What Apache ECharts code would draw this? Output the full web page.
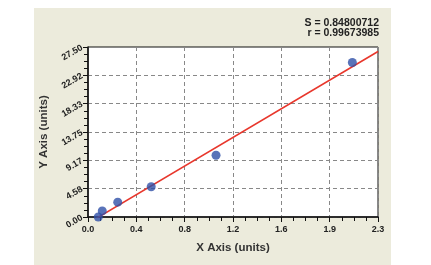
<!DOCTYPE html>
<html>
<head>
<meta charset="utf-8">
<script src="https://cdn.jsdelivr.net/npm/echarts@6/dist/echarts.min.js"></script>
<style>html,body{margin:0;padding:0;background:#fff;}#c{width:431px;height:265px;}</style>
</head>
<body>
<div id="c"></div>
<script>
var xTickLabels = ['0.0','0.4','0.8','1.2','1.6','1.9','2.3'];
var yTickLabels = ['0.00','4.58','9.17','13.75','18.33','22.92','27.50'];
var xValues = [0.083, 0.115, 0.24, 0.51, 1.033, 2.133];
var yValues = [0.0, 0.98, 2.40, 4.9, 9.98, 25.0];
var fitX = [0.07, 2.34];
var fitY = [-0.2, 26.77];
var statLines = ['S = 0.84800712', 'r = 0.99673985'];

var xMax = 2.34, xStep = 0.39;
var yMax = 27.5, yStep = 27.5 / 6;

var chart = echarts.init(document.getElementById('c'), null, {renderer: 'canvas'});
var pts = xValues.map(function (x, i) { return [x, yValues[i]]; });
var fit = fitX.map(function (x, i) { return [x, fitY[i]]; });
var font = 'Liberation Sans, Arial, sans-serif';

var graphics = [{
  type: 'rect', z: -10, silent: true,
  shape: {x: 34, y: 8, width: 357, height: 257},
  style: {fill: '#ecebdc'}
}];
statLines.forEach(function (t, i) {
  graphics.push({
    type: 'text', x: 379, y: 23 + i * 10, silent: true,
    style: {text: t, align: 'right', verticalAlign: 'middle', fill: '#222',
      font: 'bold 10.5px ' + font}
  });
});

chart.setOption({
  animation: false,
  backgroundColor: '#ffffff',
  graphic: graphics,
  grid: {
    left: 88, right: 53, top: 47, bottom: 48,
    show: true, backgroundColor: '#ffffff', borderColor: '#111', borderWidth: 1
  },
  xAxis: {
    type: 'value', min: 0, max: xMax, interval: xStep,
    name: 'X Axis (units)', nameLocation: 'middle', nameGap: 25,
    nameTextStyle: {fontFamily: font, fontSize: 11.5, fontWeight: 'bold', color: '#333'},
    axisLine: {show: true, onZero: false, lineStyle: {color: '#111', width: 1.5}},
    axisTick: {show: true, inside: false, length: 5, lineStyle: {color: '#111'}},
    minorTick: {show: true, splitNumber: 4, length: 4, lineStyle: {color: '#111'}},
    axisLabel: {
      margin: 8, fontFamily: font, fontSize: 9, fontWeight: 'bold', color: '#222',
      formatter: function (v) { return xTickLabels[Math.round(v / xStep)]; }
    },
    splitLine: {show: true, lineStyle: {color: '#888', type: [4, 3], width: 1}}
  },
  yAxis: {
    type: 'value', min: 0, max: yMax, interval: yStep,
    name: 'Y Axis (units)', nameLocation: 'middle', nameGap: 32,
    nameTextStyle: {fontFamily: font, fontSize: 11.5, fontWeight: 'bold', color: '#333'},
    axisLine: {show: true, onZero: false, lineStyle: {color: '#111', width: 1.5}},
    axisTick: {show: true, inside: false, length: 5, lineStyle: {color: '#111'}},
    minorTick: {show: true, splitNumber: 4, length: 4, lineStyle: {color: '#111'}},
    axisLabel: {
      margin: 6, rotate: 30, fontFamily: font, fontSize: 9, fontWeight: 'bold', color: '#222',
      formatter: function (v) { return yTickLabels[Math.round(v / yStep)]; }
    },
    splitLine: {show: true, lineStyle: {color: '#888', type: [4, 3], width: 1}}
  },
  series: [{
    type: 'line', data: fit, showSymbol: false, symbol: 'none', clip: true,
    lineStyle: {color: '#e8372c', width: 1.5}, z: 3
  }, {
    type: 'scatter', data: pts, symbolSize: 9, clip: false,
    itemStyle: {color: '#2f50a8'}, z: 4
  }]
});
</script>
</body>
</html>
